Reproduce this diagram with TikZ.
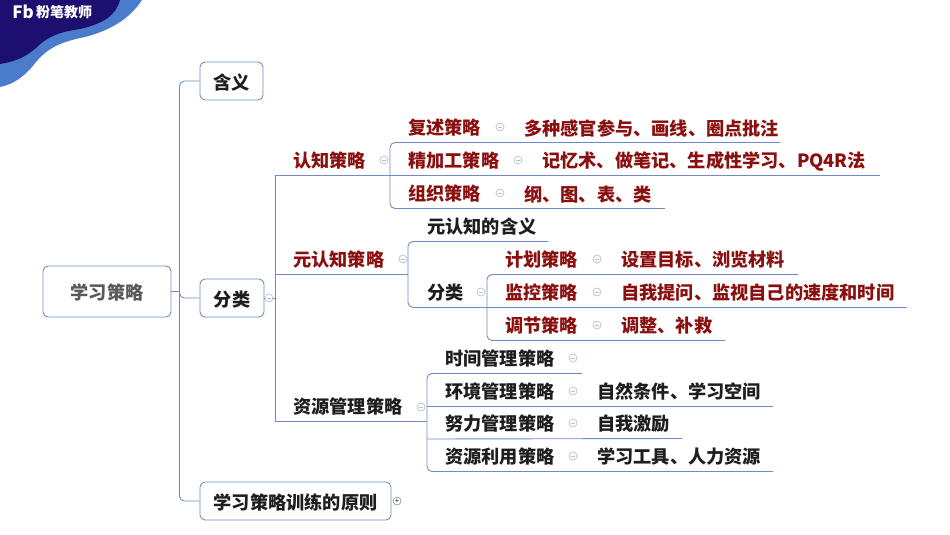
\documentclass[tikz,border=0pt]{standalone}
\usepackage{fontspec}
\setmainfont{Noto Sans CJK SC}
\definecolor{linec}{HTML}{6F8CC6}
\definecolor{foldc}{HTML}{B4C0D6}
\definecolor{redt}{HTML}{8A0F0F}
\definecolor{blackt}{HTML}{1E1E1E}
\definecolor{bluebg}{HTML}{4A7CCB}
\definecolor{darkbg}{HTML}{1D0F70}
\tikzset{
    txt/.style={anchor=west,inner sep=0pt,yshift=-1pt,font=\fontsize{18.2}{18.2}\selectfont\bfseries},
    redtxt/.style={txt,text=redt},
    blacktxt/.style={txt,text=blackt},
    boxnode/.style={draw=linec,line width=.9pt,rounded corners=5pt,fill=white,inner sep=0pt,text=blackt,
        text height=16pt,text depth=0pt,font=\fontsize{18.2}{18.2}\selectfont\bfseries},
    conn/.style={draw=linec,line width=.9pt,rounded corners=5pt},
    fold/.style={circle,draw=foldc,line width=.7pt,minimum size=8pt,inner sep=0pt,
        path picture={\draw[foldc,line width=.7pt] ([xshift=2pt]path picture bounding box.west)--([xshift=-2pt]path picture bounding box.east);}},
}
\begin{document}
\begin{tikzpicture}[x=1pt,y=-1pt]
\useasboundingbox (0,0) rectangle (950,535);
% corner
\fill[bluebg] (0,0)--(142,0) .. controls (130,18) and (112,30) .. (85,37) .. controls (60,42) and (48,48) .. (36,62) .. controls (26,75) and (15,84) .. (0,87)--cycle;
\fill[darkbg] (0,0)--(120,0) .. controls (116,16) and (102,24) .. (80,29) .. controls (60,32) and (48,36) .. (36,48) .. controls (26,57) and (14,62) .. (0,64)--cycle;
\node[text=white,font=\fontsize{17}{17}\selectfont\bfseries,inner sep=0pt] (fb) at (23,12) {Fb};
\node[text=white,font=\fontsize{14}{14}\selectfont\bfseries,inner sep=0pt,anchor=west] (logo) at (36,12) {粉笔教师};

% boxes
\node[boxnode,minimum width=128pt,minimum height=51pt,text=black!65] (root) at (107,291.5) {学习策略};
\node[boxnode,minimum width=63pt,minimum height=38pt] (hy) at (231.5,81) {含义};
\node[boxnode,minimum width=64pt,minimum height=38pt] (fl) at (232,298) {分类};
\node[boxnode,minimum width=191pt,minimum height=38pt] (yz) at (295.5,501) {学习策略训练的原则};

% topics: name/x/y/style/text/end of line
\foreach \n/\x/\y/\s/\t/\e in {
    rz/293/160/redtxt/认知策略/390,
    yrz/293/259/redtxt/元认知策略/408,
    zy/293/406/blacktxt/资源管理策略/427,
    fs/408/127/redtxt/复述策略/780,
    jj/408/160/redtxt/精加工策略/880,
    zz/408/193/redtxt/组织策略/665,
    hyi/427/226/blacktxt/元认知的含义/548,
    fl2/427/292/blacktxt/分类/487,
    jh/505/259/redtxt/计划策略/798,
    jk/505/292/redtxt/监控策略/907,
    tj/505/325/redtxt/调节策略/725,
    sj/445/358/blacktxt/时间管理策略/582,
    hj/445/391/blacktxt/环境管理策略/773,
    nl/445/423/blacktxt/努力管理策略/682,
    zl/445/456/blacktxt/资源利用策略/773}
{
    \node[\s] (\n) at (\x,\y) {\t};
    \coordinate (\n-e) at (\e,\y+15.5);
}
% details
\foreach \n/\x/\y/\s/\t in {
    fsd/524/127/redtxt/多种感官参与、画线、圈点批注,
    jjd/542/160/redtxt/记忆术、做笔记、生成性学习、PQ4R法,
    zzd/524/193/redtxt/纲、图、表、类,
    jhd/621/259/redtxt/设置目标、浏览材料,
    jkd/621/292/redtxt/自我提问、监视自己的速度和时间,
    tjd/621/325/redtxt/调整、补救,
    hjd/597/391/blacktxt/自然条件、学习空间,
    nld/597/423/blacktxt/自我激励,
    zld/597/456/blacktxt/学习工具、人力资源}
{
    \node[\s] (\n) at (\x,\y) {\t};
}

% trunk
\coordinate (tr) at (179.5,291.5);
\draw[conn] (root.east)--(tr);
\draw[conn] (tr) |- (hy.west);
\draw[conn] (tr) |- (yz.west);
\draw[conn] (tr) |- (fl.west);
% second level
\coordinate (a1) at (275,298);
\draw[conn] (fl.east)--(a1);
\draw[conn,rounded corners=0pt] (a1) |- (rz-e);
\draw[conn,rounded corners=0pt] (a1) |- (yrz-e);
\draw[conn,rounded corners=0pt] (a1) |- (zy-e);
% rz
\draw[conn] (rz-e) |- (fs-e);
\draw[conn] (rz-e) |- (zz-e);
\draw[conn] (rz-e)--(jj-e);
% yrz
\draw[conn] (yrz-e) |- (hyi-e);
\draw[conn] (yrz-e) |- (fl2-e);
% fl2
\draw[conn] (fl2-e) |- (jh-e);
\draw[conn] (fl2-e) |- (tj-e);
\draw[conn] (fl2-e)--(jk-e);
% zy
\draw[conn] (zy-e) |- (sj-e);
\draw[conn] (zy-e) |- (zl-e);
\coordinate (hjs) at (427,406.5);
\draw[conn] (hjs)--(hj-e);
\coordinate (nls) at (427,439);
\draw[conn] (nls)--(nl-e);

% fold marks
\foreach \n/\x/\y in {f1/269/298,f2/384/160,f3/403/259,f4/421/407,f5/500/127,f6/518/160,f7/500/193,
    f8/481/292,f9/597/259,f10/597/292,f11/597/325,f12/573/358,f13/573/391,f14/573/423,f15/573/456}
{
    \node[fold,fill=white] (\n) at (\x,\y) {};
}
\node[circle,draw=black!45,line width=.6pt,minimum size=8pt,inner sep=0pt,font=\fontsize{7}{7}\selectfont] (f16) at (397,501) {+};
\end{tikzpicture}
\end{document}
